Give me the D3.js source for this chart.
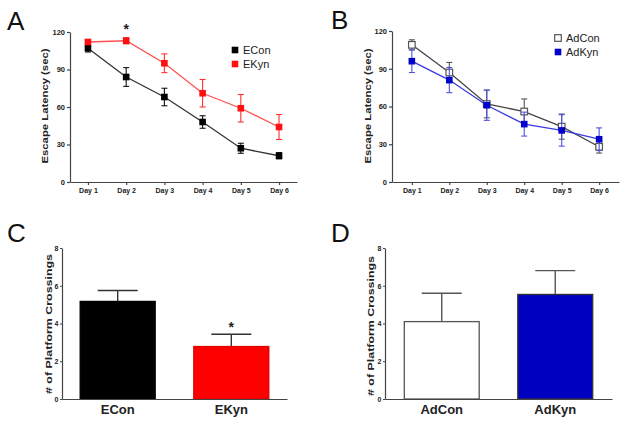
<!DOCTYPE html>
<html><head><meta charset="utf-8">
<script src="https://cdn.jsdelivr.net/npm/d3@7"></script>
<style>body{margin:0;background:#fff}svg{display:block}text{font-family:"Liberation Sans",Arial,sans-serif}</style>
</head><body><svg id="c" width="629" height="424"></svg>
<script>
const days = ["Day 1","Day 2","Day 3","Day 4","Day 5","Day 6"];
const latencyTicks = [0,30,60,90,120];
const eConMean = [107,84,68,48,27,21];
const eConSem  = [3,7.5,7,5,4,2.5];
const eKynMean = [112,113,95,71,59,44];
const eKynSem  = [2,2.5,7.5,11,11,10];
const adConMean = [109,87,62,56,44,28];
const adConSem  = [4,8,11,10,10,5];
const adKynMean = [96,81,61,46,41,34];
const adKynSem  = [9,10,12,9.5,12.5,9];
const groupsC = ["ECon","EKyn"];
const crossingsC = [5.17,2.78];
const crossingsCSem = [0.58,0.65];
const groupsD = ["AdCon","AdKyn"];
const crossingsD = [4.1,5.54];
const crossingsDSem = [1.5,1.26];
const crossTicks = [0,2,4,6,8];

const svg = d3.select("#c");
const axisCol = "#444";

function styleAxis(g){
  g.selectAll("path,line").attr("stroke",axisCol).attr("stroke-width",1.2);
  g.selectAll("text").attr("font-size",7.5).attr("font-weight","bold").attr("fill","#222");
}

function panelLetter(txt,x,y){
  svg.append("text").attr("x",x).attr("y",y).attr("font-size",26).attr("font-weight","300").attr("fill","#111").text(txt);
}

function yTitle(txt,x,y,len){
  svg.append("text").attr("transform",`translate(${x},${y}) rotate(-90)`).attr("text-anchor","middle")
    .attr("font-size",9.5).attr("font-weight","bold").attr("fill","#222")
    .attr("textLength",len).attr("lengthAdjust","spacingAndGlyphs").text(txt);
}

function linePanel(opt){
  const x = d3.scalePoint().domain(days).range([opt.x0,opt.x1]).padding(opt.pad);
  const y = d3.scaleLinear().domain([0,120]).range([opt.y0,opt.y1]);
  const gx = svg.append("g").attr("transform",`translate(0,${opt.y0})`)
    .call(d3.axisBottom(x).tickSize(3).tickPadding(3).tickSizeOuter(0));
  styleAxis(gx); gx.selectAll("text").attr("font-size",7);
  const gy = svg.append("g").attr("transform",`translate(${opt.x0},0)`)
    .call(d3.axisLeft(y).tickValues(latencyTicks).tickSize(3).tickPadding(2).tickSizeOuter(0));
  styleAxis(gy);
  yTitle("Escape Latency (sec)", opt.titleX, opt.titleY, 115);
  opt.series.forEach(s=>{
    const pts = days.map((d,i)=>({d,m:s.mean[i],e:s.sem[i]}));
    svg.append("path").datum(pts).attr("fill","none").attr("stroke",s.line).attr("stroke-width",1.3)
      .attr("d",d3.line().x(p=>x(p.d)).y(p=>y(p.m)));
    const eb = svg.append("g");
    pts.forEach(p=>{
      const cx = x(p.d);
      eb.append("line").attr("x1",cx).attr("x2",cx).attr("y1",y(p.m+p.e)).attr("y2",y(p.m-p.e)).attr("stroke",s.err).attr("stroke-width",1.1);
      [p.m+p.e,p.m-p.e].forEach(v=>eb.append("line").attr("x1",cx-3).attr("x2",cx+3).attr("y1",y(v)).attr("y2",y(v)).attr("stroke",s.err).attr("stroke-width",1.1));
      svg.append("rect").attr("x",cx-3.3).attr("y",y(p.m)-3.3).attr("width",6.6).attr("height",6.6)
        .attr("fill",s.fill).attr("stroke",s.stroke).attr("stroke-width",s.open?1.2:0);
    });
  });
  opt.series.forEach((s,i)=>{
    const ly = opt.legY + i*14;
    svg.append("rect").attr("x",opt.legX-3.3).attr("y",ly-3.3).attr("width",6.6).attr("height",6.6)
      .attr("fill",s.fill).attr("stroke",s.stroke).attr("stroke-width",s.open?1.2:0);
    svg.append("text").attr("x",opt.legX+8).attr("y",ly+4).attr("font-size",11).attr("fill","#222").text(s.name);
  });
  return {x,y};
}

const A = linePanel({x0:70,x1:297,pad:0.47,y0:182,y1:32,titleX:48,titleY:106,legX:235,legY:50,
  series:[
    {name:"ECon",mean:eConMean,sem:eConSem,line:"#333",err:"#111",fill:"#000",stroke:"#000"},
    {name:"EKyn",mean:eKynMean,sem:eKynSem,line:"#ff5050",err:"#ff3030",fill:"#ff1010",stroke:"#ff1010"}
  ]});
svg.append("text").attr("x",A.x("Day 2")).attr("y",34).attr("text-anchor","middle").attr("font-size",14).attr("font-weight","bold").attr("fill","#222").text("*");

linePanel({x0:392,x1:619,pad:0.53,y0:182,y1:31,titleX:371,titleY:106,legX:558,legY:38,
  series:[
    {name:"AdCon",mean:adConMean,sem:adConSem,line:"#444",err:"#555",fill:"#fff",stroke:"#555",open:true},
    {name:"AdKyn",mean:adKynMean,sem:adKynSem,line:"#3a3ae0",err:"#5050e0",fill:"#0000c8",stroke:"#0000c8"}
  ]});

function barPanel(opt){
  const x = d3.scaleBand().domain(opt.groups).range([opt.x0,opt.x1]).paddingInner(0.34).paddingOuter(opt.po);
  const y = d3.scaleLinear().domain([0,8]).range([opt.y0,opt.y1]);
  opt.groups.forEach((g,i)=>{
    const cx = x(g)+x.bandwidth()/2, top = y(opt.vals[i]), et = y(opt.vals[i]+opt.sem[i]);
    svg.append("line").attr("x1",cx).attr("x2",cx).attr("y1",top).attr("y2",et).attr("stroke",opt.errCol[i]).attr("stroke-width",1.4);
    svg.append("line").attr("x1",cx-20).attr("x2",cx+20).attr("y1",et).attr("y2",et).attr("stroke",opt.errCol[i]).attr("stroke-width",1.4);
    svg.append("rect").attr("x",x(g)).attr("y",top).attr("width",x.bandwidth()).attr("height",opt.y0-top)
      .attr("fill",opt.fills[i]).attr("stroke",opt.strokes[i]).attr("stroke-width",1.3);
  });
  const gx = svg.append("g").attr("transform",`translate(0,${opt.y0})`)
    .call(d3.axisBottom(x).tickSize(0).tickPadding(6).tickSizeOuter(0));
  styleAxis(gx); gx.selectAll("text").attr("font-size",13);
  const gy = svg.append("g").attr("transform",`translate(${opt.x0},0)`)
    .call(d3.axisLeft(y).tickValues(crossTicks).tickSize(2).tickPadding(1.5).tickSizeOuter(0));
  styleAxis(gy); gy.selectAll("text").attr("font-size",7);
  yTitle("# of Platform Crossings", opt.titleX, opt.titleY, 140);
  return {x,y};
}

const C = barPanel({x0:62,x1:287,po:0.16,y0:399,y1:248,titleX:52,titleY:324,groups:groupsC,vals:crossingsC,sem:crossingsCSem,
  fills:["#000","#ff0000"],strokes:["#000","#d00"],errCol:["#333","#333"]});
svg.append("text").attr("x",C.x("EKyn")+C.x.bandwidth()/2).attr("y",332).attr("text-anchor","middle").attr("font-size",14).attr("font-weight","bold").attr("fill","#222").text("*");

barPanel({x0:385,x1:612,po:0.17,y0:399,y1:248,titleX:374,titleY:326,groups:groupsD,vals:crossingsD,sem:crossingsDSem,
  fills:["#fff","#0000c0"],strokes:["#555","#333"],errCol:["#555","#555"]});

panelLetter("A",7,30);
panelLetter("B",331,29);
panelLetter("C",7,242);
panelLetter("D",331,242);
</script></body></html>
